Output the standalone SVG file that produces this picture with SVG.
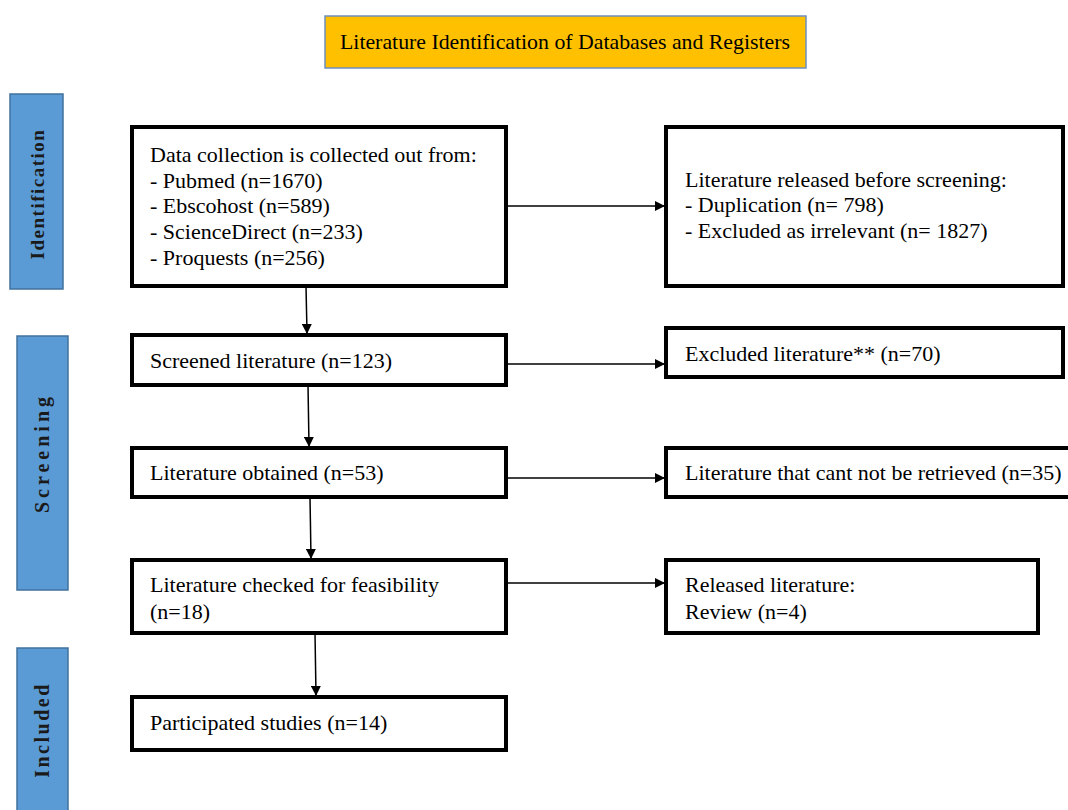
<svg xmlns="http://www.w3.org/2000/svg" width="1068" height="810" viewBox="0 0 1068 810">
<defs>
<marker id="ah" markerWidth="10" markerHeight="10" refX="9" refY="5" orient="auto" markerUnits="userSpaceOnUse">
<path d="M0,0 L10,5 L0,10 z" fill="#000"/>
</marker>
<style>
.t{font-family:"Liberation Serif","Times New Roman",serif;font-size:22px;fill:#000}
.tt{font-family:"Liberation Serif","Times New Roman",serif;font-size:21px;fill:#000}
.box{fill:#fff;stroke:#000;stroke-width:4}
.side{fill:#5B9BD5;stroke:#41719C;stroke-width:1.5}
.st{font-family:"Liberation Serif","Times New Roman",serif;font-size:20px;font-weight:bold;letter-spacing:2.5px;fill:#1a1a1a}
.c{stroke:#000;stroke-width:1.5;fill:none;marker-end:url(#ah)}
</style>
</defs>
<rect width="1068" height="810" fill="#fff"/>
<g id="title">
<rect x="325" y="16" width="481" height="52" fill="#FFC000" stroke="#6D8EBF" stroke-width="1.5"/>
<text class="tt" x="565" y="49" text-anchor="middle" textLength="450" lengthAdjust="spacingAndGlyphs">Literature Identification of Databases and Registers</text>
</g>
<g id="side-identification">
<rect class="side" x="10" y="94" width="53" height="195"/>
<text class="st" transform="translate(44,194) rotate(-90)" text-anchor="middle" style="font-size:19px;letter-spacing:1.5px">Identification</text>
</g>
<g id="side-screening">
<rect class="side" x="17" y="336" width="51" height="254"/>
<text class="st" transform="translate(49,453) rotate(-90)" text-anchor="middle" style="letter-spacing:4px">Screening</text>
</g>
<g id="side-included">
<rect class="side" x="17" y="648" width="51" height="170"/>
<text class="st" transform="translate(49,730) rotate(-90)" text-anchor="middle">Included</text>
</g>
<g id="n-data">
<rect class="box" x="132" y="127" width="374" height="159"/>
<text class="t" x="150" y="162">Data collection is collected out from:</text>
<text class="t" x="150" y="188">- Pubmed (n=1670)</text>
<text class="t" x="150" y="213">- Ebscohost (n=589)</text>
<text class="t" x="150" y="239">- ScienceDirect (n=233)</text>
<text class="t" x="150" y="265">- Proquests (n=256)</text>
</g>
<g id="n-released">
<rect class="box" x="666" y="127" width="397" height="159"/>
<text class="t" x="685" y="187">Literature released before screening:</text>
<text class="t" x="685" y="212">- Duplication (n= 798)</text>
<text class="t" x="685" y="238">- Excluded as irrelevant (n= 1827)</text>
</g>
<g id="n-screened">
<rect class="box" x="132" y="335" width="374" height="50"/>
<text class="t" x="150" y="368">Screened literature (n=123)</text>
</g>
<g id="n-excluded">
<rect class="box" x="666" y="328" width="397" height="49"/>
<text class="t" x="685" y="361">Excluded literature** (n=70)</text>
</g>
<g id="n-obtained">
<rect class="box" x="132" y="448" width="374" height="49"/>
<text class="t" x="150" y="480">Literature obtained (n=53)</text>
</g>
<g id="n-notretrieved">
<rect class="box" x="666" y="448" width="404" height="49"/>
<text class="t" x="685" y="480">Literature that cant not be retrieved (n=35)</text>
</g>
<g id="n-checked">
<rect class="box" x="132" y="560" width="374" height="73"/>
<text class="t" x="150" y="592">Literature checked for feasibility</text>
<text class="t" x="150" y="619">(n=18)</text>
</g>
<g id="n-releasedlit">
<rect class="box" x="666" y="560" width="372" height="73"/>
<text class="t" x="685" y="592">Released literature:</text>
<text class="t" x="685" y="619">Review (n=4)</text>
</g>
<g id="n-participated">
<rect class="box" x="132" y="697" width="374" height="53"/>
<text class="t" x="150" y="730">Participated studies (n=14)</text>
</g>
<g id="connectors">
<line class="c" x1="506" y1="206" x2="664" y2="206"/>
<line class="c" x1="506" y1="364" x2="664" y2="364"/>
<line class="c" x1="506" y1="478" x2="664" y2="478"/>
<line class="c" x1="506" y1="583" x2="664" y2="583"/>
<line class="c" x1="306" y1="286" x2="307" y2="333"/>
<line class="c" x1="308" y1="385" x2="309" y2="446"/>
<line class="c" x1="310" y1="497" x2="311" y2="558"/>
<line class="c" x1="315" y1="633" x2="316" y2="695"/>
</g>
</svg>
